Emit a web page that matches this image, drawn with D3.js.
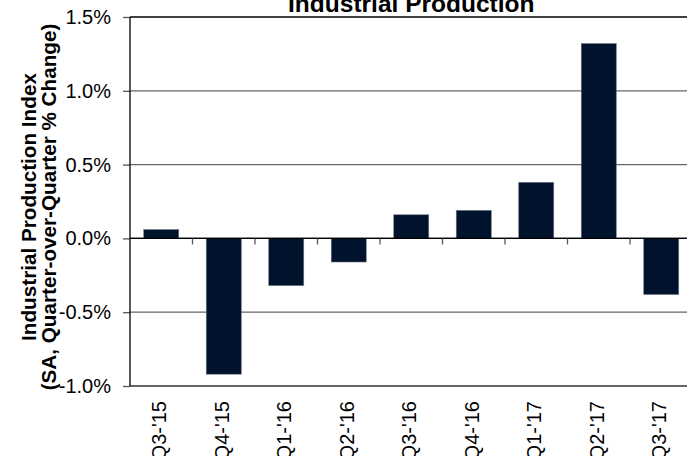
<!DOCTYPE html>
<html>
<head>
<meta charset="utf-8">
<script src="https://cdn.jsdelivr.net/npm/d3@7"></script>
<style>
  body { margin: 0; background: #fff; }
  svg { display: block; font-family: "Liberation Sans", Arial, sans-serif; }
</style>
</head>
<body>
<svg id="chart" width="687" height="456"></svg>
<script>
// data
const quarters = ["Q3-'15", "Q4-'15", "Q1-'16", "Q2-'16", "Q3-'16", "Q4-'16", "Q1-'17", "Q2-'17", "Q3-'17"];
const qoqChange = [0.06, -0.92, -0.32, -0.16, 0.16, 0.19, 0.38, 1.32, -0.38];
const yTicks = [-1.0, -0.5, 0.0, 0.5, 1.0, 1.5];
const titleText = "Industrial Production";
const yTitleLines = ["Industrial Production Index", "(SA, Quarter-over-Quarter % Change)"];

const svg = d3.select("svg#chart"),
  margin = { top: 17, left: 130 },
  plotRight = 692.5,
  plotBottom = 386;

const x = d3.scaleBand().domain(quarters).range([margin.left, plotRight]).paddingInner(0.44).paddingOuter(0.22);
const xb = d3.scaleBand().domain(quarters).range([margin.left, plotRight]).padding(0);
const y = d3.scaleLinear().domain([-1.0, 1.5]).range([plotBottom, margin.top]);

// y axis ticks + labels (plain hyphen for negatives, like the original)
const yAxis = d3.axisLeft(y).tickValues(yTicks).tickSize(7).tickPadding(12)
  .tickFormat(d => d.toFixed(1) + "%");

svg.append("g")
  .attr("transform", `translate(${margin.left},0)`)
  .call(yAxis)
  .call(g => {
    g.select(".domain").remove();
    g.selectAll(".tick text")
      .attr("fill", "#000")
      .style("font-size", "20px");
    g.selectAll(".tick line").attr("stroke", "#555").attr("stroke-width", 1.3);
  });

// horizontal grid lines
svg.append("g")
  .selectAll("line")
  .data(yTicks)
  .join("line")
  .attr("x1", margin.left)
  .attr("x2", plotRight)
  .attr("y1", d => y(d))
  .attr("y2", d => y(d))
  .attr("stroke", d => (d === 0 || d === 1.5 ? "#000" : "#666"))
  .attr("stroke-width", d => (d === -1.0 ? 2 : 1.3));

// bars
svg.append("g")
  .selectAll("rect")
  .data(quarters)
  .join("rect")
  .attr("x", d => x(d))
  .attr("width", x.bandwidth())
  .attr("y", (d, i) => y(Math.max(0, qoqChange[i])))
  .attr("height", (d, i) => Math.abs(y(qoqChange[i]) - y(0)))
  .attr("fill", "#00122c")
  .attr("stroke", "#6b7383")
  .attr("stroke-width", 0.6);

// zero line redrawn over bars, category tick marks below it
svg.append("line")
  .attr("x1", margin.left).attr("x2", plotRight)
  .attr("y1", y(0)).attr("y2", y(0))
  .attr("stroke", "#000").attr("stroke-width", 1.3);

svg.append("g")
  .selectAll("line")
  .data(quarters.slice(1))
  .join("line")
  .attr("x1", d => xb(d)).attr("x2", d => xb(d))
  .attr("y1", y(0)).attr("y2", y(0) + 6)
  .attr("stroke", "#555").attr("stroke-width", 1.3);

// left axis line
svg.append("line")
  .attr("x1", margin.left).attr("x2", margin.left)
  .attr("y1", y(1.5)).attr("y2", y(-1.0))
  .attr("stroke", "#000").attr("stroke-width", 1.3);

// category labels, rotated (bottom of them is cut by the frame in the original)
svg.append("g")
  .selectAll("text")
  .data(quarters)
  .join("text")
  .attr("transform", d => `translate(${xb(d) + xb.bandwidth() / 2 - 2}, 401) rotate(-90)`)
  .attr("text-anchor", "end")
  .attr("dy", "0.35em")
  .style("font-size", "20px")
  .text(d => d);

// chart title
svg.append("text")
  .attr("x", (margin.left + plotRight) / 2)
  .attr("y", 12)
  .attr("text-anchor", "middle")
  .style("font-size", "24.5px")
  .style("font-weight", "bold")
  .text(titleText);

// y axis title
const yTitle = svg.append("text")
  .attr("transform", "translate(36, 207) rotate(-90)")
  .attr("text-anchor", "middle")
  .style("font-size", "20.7px")
  .style("font-weight", "bold");
yTitle.selectAll("tspan")
  .data(yTitleLines)
  .join("tspan")
  .attr("x", 0)
  .attr("dy", (d, i) => (i === 0 ? 0 : 19.5))
  .text(d => d);
</script>
</body>
</html>
